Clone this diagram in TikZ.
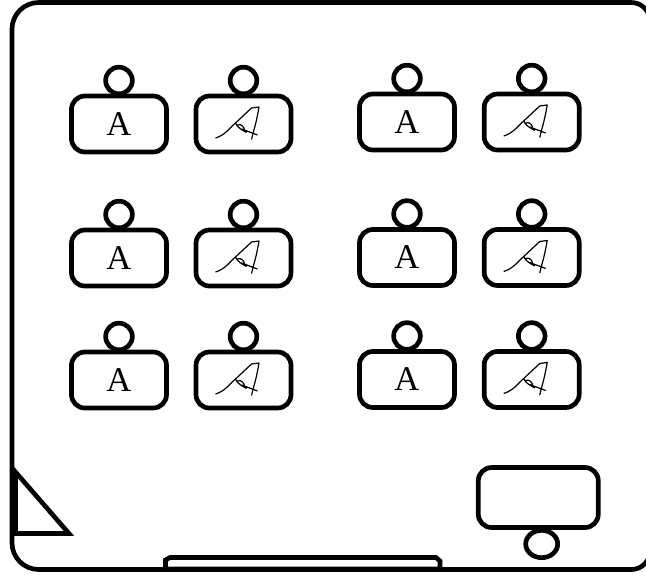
\documentclass[tikz,border=0pt]{standalone}
\usepackage{fontspec}
\usetikzlibrary{shapes.geometric}
\setmainfont{Liberation Serif}
\tikzset{
  x=0.75pt,y=-0.75pt,
  wall/.style={draw=black,line width=3.5pt},
  desk/.style={draw=black,line width=3.5pt,fill=white,rectangle,rounded corners=10pt,minimum width=71.25pt,minimum height=42pt,inner sep=0pt,font=\fontsize{26pt}{26pt}\selectfont},
  seat/.style={draw=black,line width=3.5pt,fill=white,circle,minimum size=20pt,inner sep=0pt},
  scribble/.style={draw=black,line width=0.9pt,line join=round}
}
\newcommand{\deskprint}[3]{%
  \node[seat] (s#1) at (#2,#3-43.5) {};
  \node[desk] (d#1) at (#2,#3) {A};
}
\newcommand{\desksign}[3]{%
  \node[seat] (s#1) at (#2,#3-43.5) {};
  \node[desk] (d#1) at (#2,#3) {};
  \draw[scribble] (#2-28,#3+14) .. controls (#2-18,#3+11) and (#2-13,#3+3) .. (#2-8,#3-1) -- (#2+8,#3-16) -- (#2+15.5,#3-17) .. controls (#2+14,#3-8) and (#2+12,#3+1) .. (#2+10,#3+7.5) -- (#2+8,#3+15.5) (#2-8,#3-1) .. controls (#2-6,#3+4) and (#2-1,#3+6) .. (#2+3,#3+8.5) (#2-6,#3+1) .. controls (#2-2,#3-1) and (#2+1,#3+4) .. (#2+1,#3+6) (#2-2,#3+5) -- (#2+14,#3+11);
}
\begin{document}
\begin{tikzpicture}
\useasboundingbox (0,0) rectangle (646,576);
\fill[white] (0,0) rectangle (646,576);
\draw[wall,rounded corners=20pt] (12,300) -- (12,2.5) [rounded corners=14pt] -- (650,2.5) -- (650,569.5) [rounded corners=20pt] -- (12,569.5) -- cycle;
\deskprint{a}{119}{124}
\desksign{b}{243.5}{124}
\deskprint{c}{407}{122}
\desksign{d}{531.7}{122}
\deskprint{e}{119}{258}
\desksign{f}{243.5}{258}
\deskprint{g}{407}{257.5}
\desksign{h}{531.7}{257.5}
\deskprint{i}{119}{380}
\desksign{j}{243.5}{380}
\deskprint{k}{407}{379.5}
\desksign{l}{531.7}{379.5}
\node[draw=black,line width=3.5pt,fill=white,ellipse,minimum width=24pt,minimum height=20.5pt,inner sep=0pt] (steach) at (541.7,544) {};
\node[desk,minimum width=90pt,minimum height=45pt] (dteach) at (538.3,497.5) {};
\draw[line width=3.5pt,line join=miter,fill=white] (15.5,472) -- (69,533.5) -- (15.5,533.5) -- cycle;
\draw[line width=3.5pt,fill=white] (165.5,569) -- (165.5,560) -- (170,557.5) -- (436,557.5) -- (440,561) -- (440,569) -- cycle;
\end{tikzpicture}
\end{document}
